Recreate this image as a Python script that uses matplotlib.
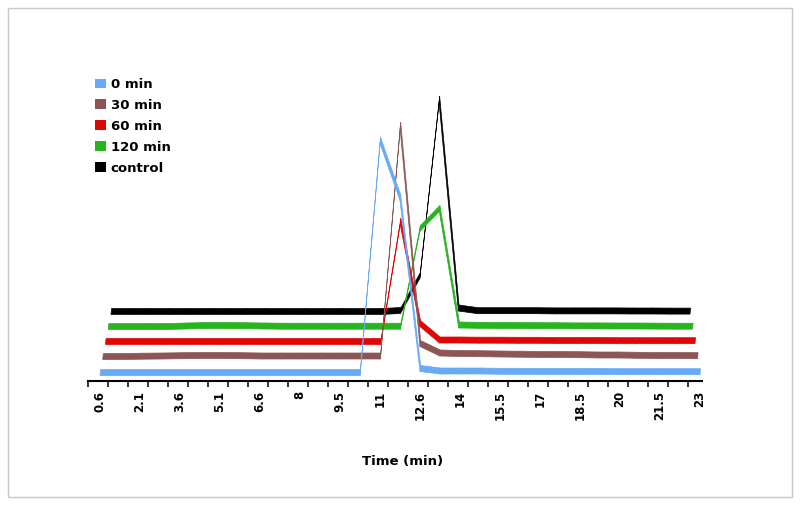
import numpy as np
import matplotlib
matplotlib.use("Agg")
import matplotlib.pyplot as plt
from matplotlib.collections import PolyCollection
from matplotlib.patches import Patch, Rectangle

# retention time labels (every other category is labelled)
tick_labels = ['0.6', '2.1', '3.6', '5.1', '6.6', '8', '9.5', '11', '12.6',
               '14', '15.5', '17', '18.5', '20', '21.5', '23']

series_names = ['0 min', '30 min', '60 min', '120 min', 'control']
colors = ['#66aaf8', '#8c5656', '#e00606', '#28b41e', '#000000']

# signal height per category (arbitrary units)
s0 = [0, 0, 0, 0, 0, 0, 0, 0, 0, 0, 0, 0, 0, 0, 232, 175, 4, 1.5, 1.5, 1.5,
      1.2, 1.2, 1.0, 1.0, 1.0, 1.0, 0.8, 0.8, 0.8, 0.8, 0.8]
s30 = [0, 0, 0.3, 0.5, 0.8, 1, 1, 0.8, 0.5, 0.5, 0.5, 0.5, 0.5, 0.5, 0.5, 231,
       13, 3.5, 3, 2.8, 2.5, 2.3, 2, 2, 1.8, 1.5, 1.5, 1.2, 1, 1, 0.8]
s60 = [0, 0, 0, 0, 0, 0, 0, 0, 0, 0, 0, 0, 0, 0, 0, 120, 18, 1.5, 1.5, 1.3,
       1.3, 1.2, 1.2, 1, 1, 1, 0.8, 0.8, 0.8, 0.8, 0.8]
s120 = [0, 0, 0, 0, 0.5, 1, 1, 0.8, 0.5, 0.3, 0.3, 0.3, 0.3, 0.3, 0.3, 0.3,
        98, 118, 1.5, 1.2, 1.0, 1.0, 0.8, 0.8, 0.6, 0.6, 0.5, 0.5, 0.4, 0.3, 0.3]
sctl = [0, 0, 0, 0, 0, 0, 0, 0, 0, 0, 0, 0, 0, 0, 0, 1, 36, 212, 3.5, 0.8,
        0.8, 0.8, 0.8, 0.6, 0.6, 0.6, 0.6, 0.5, 0.5, 0.4, 0.4]
data = [s0, s30, s60, s120, sctl]

# pseudo 3d: each series sits further back (up, right, slightly smaller)
depth_y = [0, 16, 31, 46, 61]
vanish_x = 15.7
shrink = 0.00875
rib_dx, rib_dy = 0.03, 6

fig = plt.figure(figsize=(8, 5.07), dpi=100)
fig.patch.set_facecolor('white')
ax = fig.add_axes([88 / 800, 126 / 507, 614 / 800, 321 / 507])
ax.set_xlim(-0.6, 30.1)
ax.set_ylim(-5.5, 315.5)

idx = np.arange(len(s0))
for k in range(len(data) - 1, -1, -1):
    v = np.array(data[k], dtype=float)
    sc = 1 - shrink * k
    xs = vanish_x + (idx - vanish_x) * sc
    ys = depth_y[k] + v
    quads = []
    for i in range(len(xs) - 1):
        quads.append([(xs[i], ys[i]), (xs[i + 1], ys[i + 1]),
                      (xs[i + 1] + rib_dx, ys[i + 1] + rib_dy),
                      (xs[i] + rib_dx, ys[i] + rib_dy)])
    pc = PolyCollection(quads, facecolors=colors[k], edgecolors=colors[k],
                        linewidths=0.5, clip_on=False)
    ax.add_collection(pc)

for side in ['top', 'right', 'left']:
    ax.spines[side].set_visible(False)
ax.spines['bottom'].set_linewidth(1.5)
ax.set_yticks([])
ax.set_xticks(idx - 0.6)
ax.tick_params(axis='x', which='major', direction='out', length=4.5, width=1.1,
               labelbottom=False)
ax.set_xticks(idx[::2], labels=tick_labels, minor=True)
ax.tick_params(axis='x', which='minor', length=0, pad=7, labelrotation=90,
               labelsize=8.5)
for t in ax.get_xticklabels(minor=True):
    t.set_fontweight('bold')

fig.text(403 / 800, 1 - 462 / 507, 'Time (min)', ha='center', va='center',
         fontsize=9.5, fontweight='bold')

handles = [Patch(facecolor=c, edgecolor='none') for c in colors]
ax.legend(handles, series_names, loc='upper left',
          bbox_to_anchor=(95 / 800, 1 - 78 / 507),
          bbox_transform=fig.transFigure, frameon=False, borderpad=0,
          borderaxespad=0, handlelength=0.85, handleheight=0.75,
          handletextpad=0.35, labelspacing=0.6,
          prop={'size': 9.5, 'weight': 'bold'})

fig.add_artist(Rectangle((8 / 800, 10 / 507), 784 / 800, 489 / 507,
                         transform=fig.transFigure, fill=False,
                         edgecolor='#c8c8c8', linewidth=1))

fig.savefig('out.png', dpi=100)
